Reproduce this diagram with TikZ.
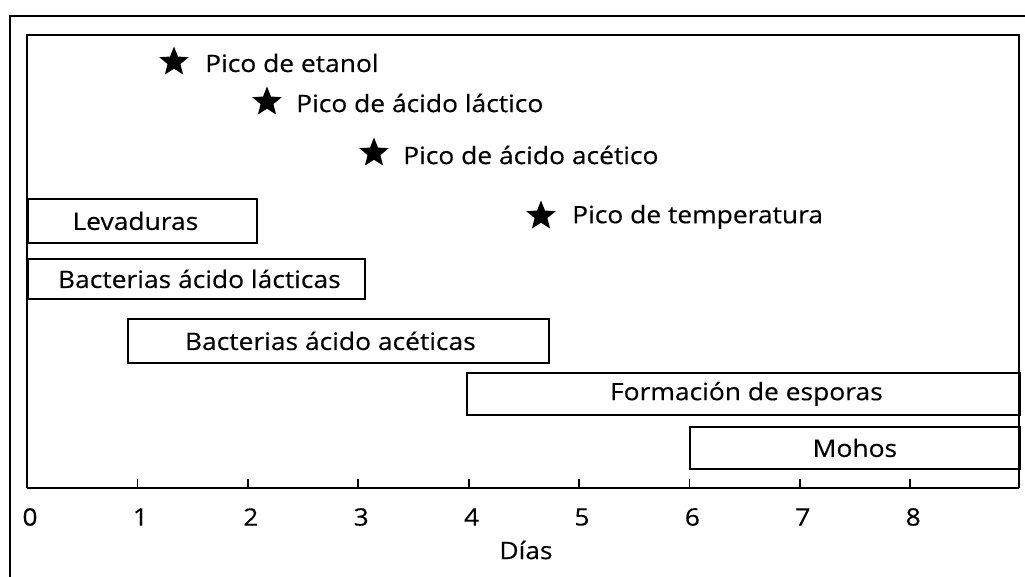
\documentclass[tikz,border=0pt]{standalone}
\usepackage{fontspec}
\setmainfont{Open Sans}[FakeStretch=1.1,FakeBold=0.3]
\usetikzlibrary{shapes.geometric}
\begin{document}
\begin{tikzpicture}[x=1pt,y=-1pt,
  bar/.style={draw=black,line width=1.8pt,anchor=north west,inner sep=0pt,font=\fontsize{24}{28}\selectfont},
  starmark/.style={star,star points=5,star point ratio=2.3,fill=black,draw=none,minimum size=31pt,inner sep=0pt},
  peak/.style={anchor=west,inner sep=0pt,font=\fontsize{24}{28}\selectfont},
  ticklab/.style={anchor=center,inner sep=0pt,font=\fontsize{24}{28}\selectfont}]
\useasboundingbox (0,0) rectangle (1025,577);
% outer frame
\draw[line width=1.3pt] (10,577) -- (10,16) -- (1025,16);
% plot frame
\coordinate (tl) at (27,35);
\coordinate (tr) at (1019,35);
\coordinate (bl) at (27,488);
\coordinate (br) at (1019,488);
\draw[line width=2.4pt] (bl) -- (tl) -- (tr) -- (br);
\draw[line width=2.4pt] (bl) -- (br);
% ticks
\foreach \d in {1,...,8}{
  \coordinate (t\d) at ({27+110.4*\d},488);
  \draw[line width=1.8pt] (t\d) -- ++(0,-9);
}
\foreach \d in {0,...,8}{
  \node[ticklab] (l\d) at ({30+110.4*\d},517) {\d};
}
\node[ticklab] (xlab) at (526,550) {Días};
% bars
\node[bar,minimum width=229pt,minimum height=44pt] (lev) at (27,198) {\hspace*{-14pt}Levaduras};
\node[bar,minimum width=337pt,minimum height=40pt] (bal) at (27,258) {\hspace*{6pt}Bacterias ácido lácticas};
\node[bar,minimum width=421pt,minimum height=44pt] (baa) at (127,318) {\hspace*{-16pt}Bacterias ácido acéticas};
\node[bar,minimum width=553pt,minimum height=42pt] (esp) at (466,372) {\hspace*{6pt}Formación de esporas};
\node[bar,minimum width=330pt,minimum height=42pt] (moh) at (689,426) {Mohos};
% peaks
\node[starmark] (s1) at (174,62) {};
\node[peak] (p1) at (205,63) {Pico de etanol};
\node[starmark] (s2) at (267,102) {};
\node[peak] (p2) at (296,103) {Pico de ácido láctico};
\node[starmark] (s3) at (374,153) {};
\node[peak] (p3) at (403,155) {Pico de ácido acético};
\node[starmark] (s4) at (541,216) {};
\node[peak] (p4) at (572,217) {Pico de temperatura};
\end{tikzpicture}
\end{document}
